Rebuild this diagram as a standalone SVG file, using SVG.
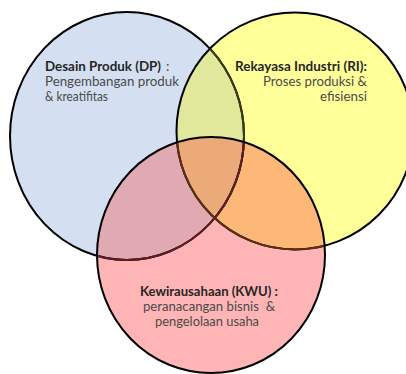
<svg xmlns="http://www.w3.org/2000/svg" width="406" height="374" viewBox="0 0 406 374">
  <style>
    .title { font-family: Lato, "Liberation Sans", sans-serif; font-size: 13.5px; font-weight: bold; fill: #262626; }
    .body { font-family: Lato, "Liberation Sans", sans-serif; font-size: 13.5px; fill: #4a4a4a; }
    .edge { fill: none; stroke: #000; stroke-width: 2; }
  </style>
  <defs>
    <!-- set outlines -->
    <ellipse id="setDP" cx="127" cy="136" rx="117" ry="124"/>
    <circle id="setRI" cx="295" cy="131" r="118.5"/>
    <ellipse id="setKWU" cx="211" cy="255" rx="114" ry="118"/>
    <clipPath id="inDP"><use href="#setDP"/></clipPath>
    <clipPath id="inRI"><use href="#setRI"/></clipPath>
    <clipPath id="inKWU"><use href="#setKWU"/></clipPath>
  </defs>

  <rect width="406" height="374" fill="#ffffff"/>

  <!-- region fills -->
  <g id="regions">
    <use href="#setDP" fill="#D4E0F1"/>
    <use href="#setRI" fill="#FFFF9A"/>
    <use href="#setKWU" fill="#FFB5B5"/>
    <use href="#setRI" fill="#E1E89B" clip-path="url(#inDP)"/>
    <use href="#setKWU" fill="#E1A9B1" clip-path="url(#inDP)"/>
    <use href="#setKWU" fill="#FDB878" clip-path="url(#inRI)"/>
    <g clip-path="url(#inDP)">
      <use href="#setKWU" fill="#EBAA78" clip-path="url(#inRI)"/>
    </g>
  </g>

  <!-- outlines, tinted where a later set lies over them -->
  <g id="outlines">
    <use href="#setDP" class="edge"/>
    <use href="#setDP" class="edge" stroke="#3a3a12" style="stroke:#3a3a12" clip-path="url(#inRI)"/>
    <use href="#setDP" class="edge" style="stroke:#5e1c24" clip-path="url(#inKWU)"/>
    <use href="#setRI" class="edge"/>
    <use href="#setRI" class="edge" style="stroke:#5c3014" clip-path="url(#inKWU)"/>
    <use href="#setKWU" class="edge"/>
  </g>

  <g id="node-dp">
    <text x="45" y="71"><tspan class="title" textLength="116" lengthAdjust="spacingAndGlyphs">Desain Produk (DP)</tspan><tspan class="body" x="166" y="71">:</tspan></text>
    <text class="body" x="45" y="86" textLength="134" lengthAdjust="spacingAndGlyphs">Pengembangan produk</text>
    <text class="body" x="45" y="101" textLength="63" lengthAdjust="spacingAndGlyphs">&amp; kreatifitas</text>
  </g>

  <g id="node-ri">
    <text class="title" x="235" y="71" textLength="132" lengthAdjust="spacingAndGlyphs">Rekayasa Industri (RI):</text>
    <text class="body" x="263" y="86" textLength="104" lengthAdjust="spacingAndGlyphs">Proses produksi &amp;</text>
    <text class="body" x="320" y="101" textLength="47" lengthAdjust="spacingAndGlyphs">efisiensi</text>
  </g>

  <g id="node-kwu">
    <text class="title" x="140" y="296" textLength="138" lengthAdjust="spacingAndGlyphs">Kewirausahaan (KWU) :</text>
    <text class="body" x="143" y="311" xml:space="preserve" textLength="132" lengthAdjust="spacingAndGlyphs">peranacangan bisnis  &amp;</text>
    <text class="body" x="155" y="326" textLength="104" lengthAdjust="spacingAndGlyphs">pengelolaan usaha</text>
  </g>
</svg>
